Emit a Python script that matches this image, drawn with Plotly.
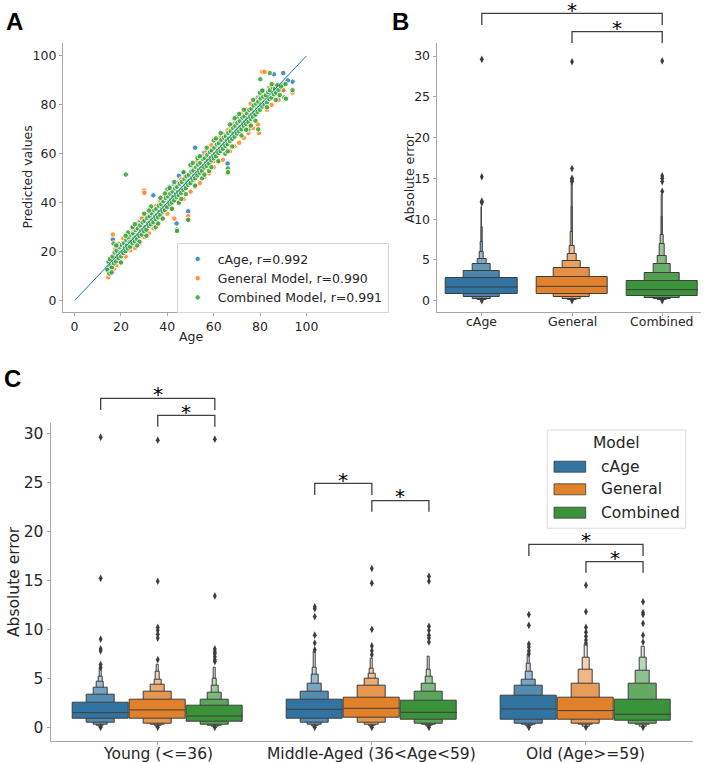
import plotly.graph_objects as go

# ---------------- DATA ----------------
models = ["cAge", "General", "Combined"]
model_colors = ["#3274a1", "#e1812c", "#3a923a"]
scatter_colors = ["#1f77b4", "#ff7f0e", "#2ca02c"]
scatter_labels = ["cAge, r=0.992", "General Model, r=0.990", "Combined Model, r=0.991"]
age_groups = ["Young (<=36)", "Middle-Aged (36<Age<59)", "Old (Age>=59)"]
axis_ticks_100 = [0, 20, 40, 60, 80, 100]
axis_ticks_err = [0, 5, 10, 15, 20, 25, 30]
identity_x = [0, 100]
identity_y = [0, 100]

cage_pts = [
    (14.0, 13.0), (15.0, 14.0), (16.5, 25.0), (17.0, 15.5), (18.0, 22.0), (19.0, 17.0), (20.0, 23.0),
    (22.0, 20.0), (23.0, 26.5), (24.0, 22.0), (25.0, 28.0), (27.0, 25.5), (28.0, 32.0), (29.0, 27.0),
    (30.0, 33.5), (31.0, 29.0), (33.0, 36.0), (34.0, 43.0), (35.0, 33.0), (37.0, 40.5), (38.0, 36.0),
    (40.0, 43.0), (41.0, 46.5), (42.0, 40.0), (43.0, 47.5), (44.0, 31.5), (45.0, 51.0), (46.0, 44.0),
    (47.0, 52.0), (48.0, 46.0), (49.0, 36.5), (50.0, 55.0), (51.0, 49.0), (52.0, 62.5), (53.0, 57.0),
    (54.0, 52.0), (55.0, 59.0), (56.0, 60.5), (57.0, 55.5), (58.0, 58.5), (59.0, 61.5), (60.0, 58.0),
    (61.0, 64.5), (62.0, 60.0), (63.0, 66.0), (65.0, 63.0), (66.0, 56.0), (67.0, 70.0), (68.0, 66.0),
    (69.0, 72.5), (70.0, 68.0), (72.0, 75.0), (73.0, 71.0), (75.0, 78.0), (76.0, 74.0), (77.0, 80.5),
    (78.0, 76.5), (80.0, 85.0), (81.0, 86.0), (83.0, 82.0), (84.0, 86.5), (86.0, 92.5), (87.0, 88.0),
    (88.0, 83.0), (90.0, 93.0), (90.2, 86.0), (94.0, 89.5), (92.0, 90.0), (64.0, 68.0), (74.0, 77.5),
    (79.0, 83.0), (44.5, 48.0),
]

general_pts = [
    (14.5, 9.5), (15.0, 11.2), (15.4, 17.5), (16.5, 27.0), (17.0, 13.0), (17.5, 21.0), (18.0, 14.5),
    (19.0, 23.2), (20.0, 16.0), (21.0, 25.5), (22.0, 18.0), (23.0, 27.0), (24.0, 20.5), (25.0, 29.5),
    (26.0, 21.5), (27.0, 31.0), (28.0, 23.5), (29.0, 33.5), (30.0, 45.0), (30.1, 44.0), (30.0, 26.0),
    (31.0, 35.0), (32.0, 27.5), (33.0, 37.5), (34.0, 29.5), (35.0, 38.5), (36.0, 31.0), (37.0, 41.0),
    (38.0, 33.5), (39.0, 43.0), (40.0, 35.5), (41.0, 45.0), (42.0, 37.5), (43.0, 33.5), (44.0, 47.0),
    (45.0, 40.0), (46.0, 49.5), (47.0, 41.5), (48.0, 51.0), (49.0, 34.5), (49.1, 33.0), (50.0, 44.5),
    (51.0, 55.0), (52.0, 46.5), (53.0, 57.0), (54.0, 48.0), (55.0, 59.0), (56.0, 50.5), (57.0, 61.0),
    (58.0, 52.0), (59.0, 63.5), (60.0, 54.5), (61.0, 65.0), (62.0, 56.5), (63.0, 67.0), (64.0, 57.5),
    (66.0, 52.0), (66.0, 69.5), (67.0, 61.0), (68.0, 72.0), (69.0, 63.0), (70.0, 74.0), (71.0, 64.5),
    (72.0, 76.5), (73.0, 66.5), (74.0, 78.0), (75.0, 68.5), (76.0, 80.5), (77.0, 70.5), (78.0, 82.0),
    (79.0, 72.0), (79.5, 68.5), (80.0, 84.0), (81.0, 93.5), (82.0, 93.5), (83.0, 78.0), (84.0, 87.0),
    (85.0, 80.0), (86.0, 88.0), (88.0, 82.0), (90.0, 86.0), (94.0, 85.0), (76.0, 72.0), (60.0, 57.0),
    (45.0, 43.0), (36.5, 35.0), (55.5, 54.0), (65.0, 66.0), (70.5, 71.0), (82.0, 83.0), (87.0, 84.5),
    (25.5, 25.0), (20.5, 20.0),
]

combined_pts = [
    (14.2, 12.5), (14.6, 15.8), (15.0, 11.0), (15.3, 16.9), (15.5, 14.2), (16.1, 13.5), (16.4, 18.0),
    (16.8, 23.3), (17.0, 15.2), (17.3, 19.6), (17.9, 16.0), (18.2, 20.4), (18.6, 18.1), (19.0, 17.3),
    (19.4, 21.8), (19.8, 19.5), (20.1, 18.1), (20.4, 22.7), (20.7, 19.9), (21.0, 19.4), (21.3, 23.5),
    (21.7, 21.6), (22.0, 20.2), (22.3, 24.8), (22.1, 51.5), (22.6, 22.4), (23.0, 21.3), (23.3, 25.6),
    (23.8, 23.9), (24.0, 22.0), (24.3, 26.9), (24.6, 24.1), (25.0, 23.4), (25.4, 27.3), (25.8, 25.5),
    (26.0, 24.2), (26.3, 28.8), (26.7, 26.1), (27.0, 25.1), (27.3, 29.5), (27.6, 27.0), (28.0, 26.4),
    (28.3, 30.7), (28.8, 28.6), (29.0, 27.0), (29.4, 31.9), (29.8, 29.2), (30.0, 28.3), (30.2, 32.6),
    (30.5, 30.1), (31.0, 29.0), (31.3, 33.8), (31.7, 31.5), (32.0, 30.5), (32.4, 34.4), (32.8, 32.2),
    (33.0, 31.2), (33.3, 35.7), (33.6, 33.0), (34.0, 32.0), (34.4, 36.9), (34.8, 34.5), (35.0, 33.3),
    (35.3, 37.5), (35.7, 35.1), (36.0, 34.1), (36.3, 38.8), (36.6, 36.2), (37.0, 35.0), (37.4, 39.4),
    (37.8, 37.3), (38.0, 36.4), (38.3, 40.6), (38.7, 38.1), (39.0, 37.0), (39.3, 41.9), (39.6, 38.8),
    (40.0, 38.2), (40.4, 42.5), (40.8, 40.3), (41.0, 39.5), (41.3, 43.7), (41.7, 41.2), (42.0, 40.1),
    (42.3, 44.6), (42.6, 42.3), (43.0, 41.0), (43.4, 45.8), (43.8, 43.6), (44.0, 42.3), (44.3, 46.4),
    (44.1, 29.0), (44.2, 28.4), (44.7, 44.5), (45.0, 43.1), (45.4, 47.7), (45.8, 45.2), (46.0, 44.0),
    (46.3, 48.5), (46.6, 45.9), (47.0, 45.2), (47.4, 49.6), (47.8, 47.1), (48.0, 46.0), (48.3, 50.8),
    (48.7, 48.4), (49.0, 47.3), (49.3, 51.4), (49.0, 33.0), (49.6, 49.0), (50.0, 48.0), (50.4, 52.7),
    (50.8, 50.3), (51.0, 49.4), (51.3, 53.2), (51.6, 50.9), (52.0, 50.0), (52.4, 54.5), (52.8, 52.1),
    (53.0, 51.2), (53.3, 55.6), (53.7, 53.4), (54.0, 52.3), (54.3, 56.3), (54.6, 54.0), (55.0, 53.0),
    (55.4, 57.8), (55.8, 55.2), (56.0, 54.4), (56.3, 58.2), (56.7, 56.3), (57.0, 55.1), (57.3, 59.6),
    (57.6, 57.2), (58.0, 56.0), (58.4, 60.7), (58.8, 58.4), (59.0, 57.3), (59.3, 61.4), (59.7, 59.1),
    (60.0, 58.2), (60.3, 62.5), (60.6, 60.0), (61.0, 59.0), (61.4, 63.8), (61.8, 61.3), (62.0, 60.4),
    (62.3, 64.3), (62.7, 62.2), (63.0, 61.1), (63.3, 65.7), (63.6, 63.0), (64.0, 62.0), (64.4, 66.6),
    (64.8, 64.3), (65.0, 63.3), (65.3, 67.2), (65.7, 65.4), (66.0, 64.0), (66.3, 68.5), (66.1, 54.0),
    (66.2, 52.5), (66.6, 66.2), (67.0, 65.2), (67.4, 69.3), (67.8, 67.1), (68.0, 66.1), (68.3, 70.6),
    (68.6, 68.2), (69.0, 67.0), (69.4, 71.4), (69.8, 69.3), (70.0, 68.3), (70.3, 72.7), (70.7, 70.2),
    (71.0, 69.1), (71.3, 73.5), (71.6, 71.0), (72.0, 70.0), (72.4, 74.8), (72.8, 72.3), (73.0, 71.4),
    (73.3, 75.3), (73.7, 73.2), (74.0, 72.2), (74.3, 76.6), (74.6, 74.1), (75.0, 73.0), (75.4, 77.9),
    (75.8, 75.4), (76.0, 74.3), (76.3, 78.4), (76.7, 76.2), (77.0, 75.1), (77.3, 79.7), (77.6, 77.0),
    (78.0, 76.0), (78.4, 80.5), (78.8, 78.3), (79.0, 77.2), (79.3, 81.3), (79.2, 70.0), (79.7, 79.1),
    (80.0, 78.0), (80.3, 82.6), (80.1, 90.5), (80.6, 80.2), (81.0, 79.3), (81.4, 83.4), (81.8, 81.0),
    (82.0, 80.1), (82.5, 84.0), (83.0, 81.0), (83.5, 85.2), (84.0, 82.4), (84.3, 86.0), (84.2, 93.0),
    (85.0, 83.0), (85.5, 87.1), (86.0, 84.3), (86.5, 86.5), (87.0, 85.0), (87.5, 88.0), (88.0, 86.2),
    (88.5, 84.0), (90.0, 88.4), (90.5, 83.0), (91.0, 88.5), (91.2, 82.5), (94.0, 86.0), (89.0, 87.5),
    (86.8, 82.0),
    (20.0, 15.5), (25.0, 30.0), (30.0, 35.5), (35.0, 30.0), (40.0, 45.5), (45.0, 40.0), (50.0, 55.5),
    (55.0, 50.0), (60.0, 65.5), (65.0, 60.0), (70.0, 75.0), (75.0, 70.0), (80.0, 85.0), (33.0, 38.5),
    (38.0, 33.5), (43.0, 48.5), (48.0, 43.5), (53.0, 58.3), (58.0, 53.0), (63.0, 68.5), (68.0, 63.0),
    (73.0, 78.0), (78.0, 73.5), (28.0, 24.0), (23.0, 27.8), (18.0, 22.5), (47.0, 52.5), (57.0, 62.5),
    (62.0, 57.0), (67.0, 72.0), (72.0, 67.5), (77.0, 82.0), (37.0, 42.0), (42.0, 37.5), (52.0, 47.0),
    (16.0, 11.5), (26.0, 31.2),
    (22.0, 26.5), (27.0, 22.5), (32.0, 36.8), (36.0, 31.5), (41.0, 46.0), (46.0, 41.5), (51.0, 56.3),
    (56.0, 51.5), (61.0, 66.3), (66.0, 61.0), (71.0, 76.3), (76.0, 71.5), (81.0, 85.8), (83.0, 79.0),
    (85.0, 88.5), (31.0, 26.5), (39.0, 43.8), (54.0, 59.0), (59.0, 54.5), (69.0, 74.5), (74.0, 69.8),
]

# Panel B letter values (IQR box outward), per model
b_medians = [1.68, 1.76, 1.35]
b_upper = [
    [2.82, 3.68, 4.46, 5.15, 5.93, 7.16, 9.0, 11.5],
    [2.94, 4.05, 4.87, 5.68, 6.71, 8.46, 11.5, 14.4],
    [2.45, 3.43, 4.50, 5.48, 6.95, 8.05, 10.3, 12.9],
]
b_lower = [
    [0.82, 0.45, 0.25, 0.13, 0.08, 0.05, 0.03, 0.02],
    [0.78, 0.43, 0.25, 0.14, 0.08, 0.05, 0.03, 0.02],
    [0.62, 0.35, 0.20, 0.12, 0.07, 0.04, 0.03, 0.02],
]
b_outliers = [
    [12.0, 12.2, 15.2, 29.6, 0.0],
    [14.6, 14.8, 15.0, 16.2, 29.3, 0.0],
    [13.4, 14.6, 15.0, 15.3, 29.4, 0.0],
]

# Panel C letter values: [age group][model]
c_medians = [
    [1.49, 1.77, 1.15],
    [1.84, 1.94, 1.53],
    [1.87, 1.70, 1.33],
]
c_upper = [
    [[2.55, 3.30, 4.08, 4.66, 5.17, 6.00],
     [2.79, 3.63, 4.32, 4.90, 5.68, 6.36],
     [2.17, 2.86, 3.53, 4.21, 5.00, 6.12]],
    [[2.79, 3.63, 4.49, 5.41, 6.12, 7.72],
     [3.06, 4.21, 5.00, 5.51, 5.95, 7.04],
     [2.68, 3.63, 4.49, 5.17, 5.92, 7.20]],
    [[3.19, 4.21, 4.83, 5.68, 6.53, 7.38],
     [3.02, 4.49, 5.85, 7.14, 8.40],
     [2.86, 4.42, 5.74, 7.14, 8.20]],
]
c_lower = [
    [[0.92, 0.47, 0.30, 0.15, 0.08, 0.04],
     [0.85, 0.41, 0.25, 0.13, 0.07, 0.03],
     [0.57, 0.30, 0.18, 0.10, 0.05, 0.03]],
    [[0.88, 0.47, 0.28, 0.15, 0.08, 0.04],
     [0.95, 0.47, 0.28, 0.15, 0.08, 0.04],
     [0.82, 0.41, 0.25, 0.13, 0.07, 0.03]],
    [[0.82, 0.41, 0.25, 0.13, 0.07, 0.03],
     [0.75, 0.41, 0.22, 0.10, 0.05],
     [0.68, 0.41, 0.22, 0.10, 0.05]],
]
c_outliers = [
    [[6.1, 6.4, 7.8, 8.0, 9.0, 15.2, 29.6, 0.0],
     [6.9, 9.1, 9.5, 9.9, 10.2, 14.9, 29.3, 0.0],
     [6.7, 6.9, 7.2, 7.5, 7.7, 8.0, 13.4, 29.4, 0.0]],
    [[7.9, 8.6, 9.4, 11.3, 12.1, 12.3, 0.0],
     [7.4, 7.8, 8.3, 10.0, 14.7, 16.2, 0.0],
     [8.7, 9.1, 9.4, 9.9, 10.3, 14.9, 15.4, 0.0]],
    [[7.5, 7.8, 8.2, 8.5, 10.4, 11.5, 0.0],
     [8.6, 8.9, 9.3, 9.7, 10.2, 11.8, 14.5, 0.0],
     [8.7, 9.4, 10.6, 11.5, 11.7, 12.8, 0.0]],
]

# significance brackets: (pos1, pos2) in category units
b_brackets = [(0, 2), (1, 2)]
c_brackets = [((0, 0), (0, 2)), ((0, 1), (0, 2)),
              ((1, 0), (1, 1)), ((1, 1), (1, 2)),
              ((2, 0), (2, 2)), ((2, 1), (2, 2))]

# ---------------- STYLE / LAYOUT ----------------
W, H = 708, 763
FONT = "DejaVu Sans"
TXT = "#262626"
GRAY = "#3d3d3d"
SPINE = "#a6a6a6"


def px(x):
    return x / W


def py(y):
    return 1 - y / H


def lighten(hexc, t):
    r, g, b = (int(hexc[i:i + 2], 16) for i in (1, 3, 5))
    r = r + (255 - r) * t
    g = g + (255 - g) * t
    b = b + (255 - b) * t
    return f"rgb({r:.0f},{g:.0f},{b:.0f})"


fig = go.Figure()

# ---- Panel A: scatter ----
for pts, col, lab in zip([cage_pts, general_pts, combined_pts], scatter_colors, scatter_labels):
    xs = [p[0] for p in pts]
    ys = [p[1] for p in pts]
    fig.add_trace(go.Scatter(
        x=xs, y=ys, mode="markers", name=lab,
        marker=dict(color=col, size=5.5, opacity=0.8, line=dict(color="white", width=1.0)),
        xaxis="x", yaxis="y", legend="legend",
    ))
fig.add_trace(go.Scatter(x=identity_x, y=identity_y, mode="lines", showlegend=False,
                         line=dict(color="#1f77b4", width=1), xaxis="x", yaxis="y"))


# ---- boxen helper ----
def add_boxen(xa, ya, center, full_w, med, upper, lower, outl, color):
    n = len(upper)
    for i in reversed(range(n)):
        w = full_w * 0.5 ** i
        t = 0.85 * i / (n - 1) if n > 1 else 0
        fig.add_trace(go.Bar(
            x=[center], y=[upper[i] - lower[i]], base=[lower[i]], width=[w],
            marker=dict(color=lighten(color, t), line=dict(color=GRAY, width=1)),
            xaxis=xa, yaxis=ya, showlegend=False, hoverinfo="skip",
        ))
    fig.add_trace(go.Scatter(
        x=[center - full_w / 2, center + full_w / 2], y=[med, med], mode="lines",
        line=dict(color=GRAY, width=1), xaxis=xa, yaxis=ya, showlegend=False, hoverinfo="skip"))
    fig.add_trace(go.Scatter(
        x=[center] * len(outl), y=outl, mode="markers",
        marker=dict(symbol="diamond-tall", size=5.5, color=GRAY),
        xaxis=xa, yaxis=ya, showlegend=False, hoverinfo="skip"))


# ---- Panel B ----
for m in range(3):
    add_boxen("x2", "y2", m, 0.8 * 0.99, b_medians[m], b_upper[m], b_lower[m], b_outliers[m], model_colors[m])

# ---- Panel C ----
hue_w = 0.8 / 3
for g in range(3):
    for m in range(3):
        center = g + (m - 1) * hue_w
        add_boxen("x3", "y3", center, hue_w * 0.98, c_medians[g][m], c_upper[g][m],
                  c_lower[g][m], c_outliers[g][m], model_colors[m])

shapes = []
annotations = []


def bracket(xref, x1, x2, ytop_px, drop_px, star_px):
    shapes.append(dict(
        type="path", xref=xref, yref="paper",
        path=f"M {x1},{py(ytop_px + drop_px)} L {x1},{py(ytop_px)} L {x2},{py(ytop_px)} L {x2},{py(ytop_px + drop_px)}",
        line=dict(color="#404040", width=1.3)))
    annotations.append(dict(
        x=(x1 + x2) / 2, y=py(star_px), xref=xref, yref="paper", text="*", showarrow=False,
        xanchor="center", yanchor="middle", yshift=-3, font=dict(family=FONT, size=20, color="black")))


# B brackets
b_y = [(13.3, 11.7, 6.5), (31.7, 11.3, 25)]
for (a, b), (yt, dr, st) in zip(b_brackets, b_y):
    bracket("x2", a, b, yt, dr, st)

# C brackets
c_y = [(398.3, 11.7, 391), (415.3, 11.4, 408.7),
       (483.3, 11.7, 476.7), (500.7, 11.0, 493.3),
       (544.3, 11.7, 536.7), (561.7, 11.0, 555)]
for ((g1, m1), (g2, m2)), (yt, dr, st) in zip(c_brackets, c_y):
    bracket("x3", g1 + (m1 - 1) * hue_w, g2 + (m2 - 1) * hue_w, yt, dr, st)

# C legend (manual, seaborn style)
shapes.append(dict(type="rect", xref="paper", yref="paper",
                   x0=px(547.3), x1=px(685.7), y0=py(528.3), y1=py(430),
                   line=dict(color="#dddddd", width=1), fillcolor="white", layer="above"))
annotations.append(dict(x=px(616.5), y=py(443.3), xref="paper", yref="paper", text="Model",
                        showarrow=False, xanchor="center", yanchor="middle",
                        font=dict(family=FONT, size=15.5, color=TXT)))
rows = [466.7, 489.3, 512.7]
for m, ry in enumerate(rows):
    shapes.append(dict(type="rect", xref="paper", yref="paper",
                       x0=px(554), x1=px(585.7), y0=py(ry + 5.5), y1=py(ry - 5.5),
                       line=dict(color=GRAY, width=0.8), fillcolor=model_colors[m], layer="above"))
    annotations.append(dict(x=px(599), y=py(ry), xref="paper", yref="paper", text=models[m],
                            showarrow=False, xanchor="left", yanchor="middle",
                            font=dict(family=FONT, size=15.5, color=TXT)))

# category labels for B and C (annotations, placed like the reference)
for m, lab in enumerate(models):
    annotations.append(dict(x=m, y=py(321.5), xref="x2", yref="paper", text=lab, showarrow=False,
                            xanchor="center", yanchor="middle",
                            font=dict(family=FONT, size=12.5, color=TXT)))
for g, lab in enumerate(age_groups):
    annotations.append(dict(x=g, y=py(753.5), xref="x3", yref="paper", text=lab, showarrow=False,
                            xanchor="center", yanchor="middle",
                            font=dict(family=FONT, size=15.5, color=TXT)))

# panel letters
for lab, lx, ly in [("A", 4, 22), ("B", 390, 22), ("C", 2, 379)]:
    annotations.append(dict(x=px(lx), y=py(ly), xref="paper", yref="paper", text=f"<b>{lab}</b>",
                            showarrow=False, xanchor="left", yanchor="middle",
                            font=dict(family="Liberation Sans", size=24, color="black")))

# axis titles
annotations += [
    dict(x=px(27), y=py(177.5), xref="paper", yref="paper", text="Predicted values", textangle=-90,
         showarrow=False, xanchor="center", yanchor="middle", font=dict(family=FONT, size=12.5, color=TXT)),
    dict(x=px(190.5), y=py(336), xref="paper", yref="paper", text="Age",
         showarrow=False, xanchor="center", yanchor="middle", font=dict(family=FONT, size=12.5, color=TXT)),
    dict(x=px(409), y=py(178), xref="paper", yref="paper", text="Absolute error", textangle=-90,
         showarrow=False, xanchor="center", yanchor="middle", font=dict(family=FONT, size=12.5, color=TXT)),
    dict(x=px(14), y=py(582), xref="paper", yref="paper", text="Absolute error", textangle=-90,
         showarrow=False, xanchor="center", yanchor="middle", font=dict(family=FONT, size=15.5, color=TXT)),
]


def ax(**kw):
    d = dict(showline=True, linecolor=SPINE, linewidth=1.3, ticks="outside", ticklen=3,
             tickcolor=SPINE, tickwidth=1.2, showgrid=False, zeroline=False, fixedrange=True,
             automargin=False)
    d.update(kw)
    return d


fig.update_layout(
    template="none",
    width=W, height=H, autosize=False,
    margin=dict(l=0, r=0, t=0, b=0, pad=0),
    paper_bgcolor="white", plot_bgcolor="white",
    barmode="overlay", bargap=0,
    font=dict(family=FONT, color=TXT),
    xaxis=ax(domain=[px(63), px(318)], range=[-5, 105], tickvals=axis_ticks_100, anchor="y",
             tickfont=dict(size=12.5, color=TXT)),
    yaxis=ax(domain=[py(312), py(43)], range=[-4.7, 105.3], tickvals=axis_ticks_100, anchor="x",
             tickfont=dict(size=12.5, color=TXT)),
    xaxis2=ax(domain=[px(436.7), px(701)], range=[-0.5, 2.43], tickvals=[0, 1, 2], showticklabels=False,
              anchor="y2"),
    yaxis2=ax(domain=[py(312), py(43)], range=[-1.39, 31.6], tickvals=axis_ticks_err, anchor="x2",
              tickfont=dict(size=12.5, color=TXT)),
    xaxis3=ax(domain=[px(50.7), px(693)], range=[-0.5, 2.5], tickvals=[0, 1, 2], showticklabels=False,
              anchor="y3"),
    yaxis3=ax(domain=[py(741), py(422.7)], range=[-1.4, 31.08], tickvals=axis_ticks_err, anchor="x3",
              tickfont=dict(size=15.5, color=TXT)),
    legend=dict(x=px(176.7), y=py(243.3), xanchor="left", yanchor="top",
                bgcolor="rgba(255,255,255,0.85)", bordercolor="#d5d5d5", borderwidth=1,
                font=dict(family=FONT, size=12.5, color=TXT), tracegroupgap=0),
    shapes=shapes,
    annotations=annotations,
)

fig.write_html("out.html", config={"displayModeBar": False},
               post_script="document.body.style.margin='0';document.body.style.padding='0';")
